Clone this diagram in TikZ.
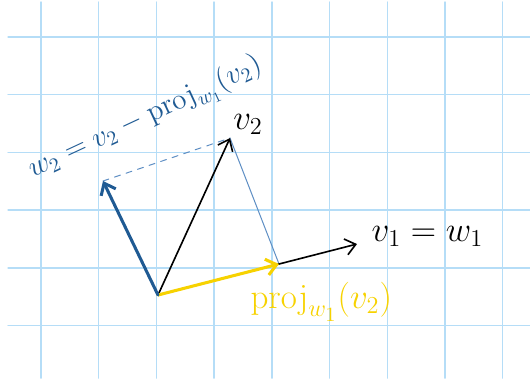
\documentclass[tikz,border=0pt]{standalone}
\usepackage{amsmath}
\usepackage{tikz}
\usetikzlibrary{
    positioning,
    arrows.meta
}
\definecolor{cuadro}{HTML}{B5DDF7}
\definecolor{azul}{HTML}{1F5A93}
\definecolor{azulclaro}{HTML}{5F8FC4}
\definecolor{amarillo}{HTML}{F7D200}
\tikzset{
    >={Straight Barb[length=5pt,width=8pt]},
    vector/.style={
        ->,
        line width=0.8pt
    },
    etiqueta/.style={
        font=\LARGE,
        inner sep=1pt
    }
}

\begin{document}
\begin{tikzpicture}[
    x=1cm,
    y=1cm,
    line cap=round
]

    \useasboundingbox (0,0) rectangle (9.185,6.603);

    % Cuadricula
    \foreach \i in {0,...,8}
        \draw[cuadro, line width=0.7pt] (0.711+\i,0.05) -- (0.711+\i,6.568);
    \foreach \j in {0,...,5}
        \draw[cuadro, line width=0.7pt] (0.14,5.962-\j) -- (9.185,5.962-\j);

    % Puntos
    \coordinate (o)  at (2.738,1.490);
    \coordinate (v2) at (3.986,4.211);
    \coordinate (v1) at (6.187,2.374);
    \coordinate (w2) at (1.785,3.466);
    \coordinate (p)  at (4.835,2.028);

    % Vectores
    \path

        % proyeccion
        (v2)
            edge[azulclaro, line width=0.5pt] (p)
        (w2)
            edge[azulclaro, dashed, line width=0.5pt] (v2)

        % v1 y v2
        (o)
            edge[vector] (v1)
            edge[vector] (v2)
            edge[vector, amarillo, line width=1.5pt] (p)
            edge[vector, azul, line width=1.5pt] (w2);

    % Etiquetas
    \node[etiqueta, anchor=west] (lv1) at (6.40,2.50) {$v_1 = w_1$};
    \node[etiqueta] (lv2) at (4.30,4.45) {$v_2$};
    \node[etiqueta, amarillo, anchor=west] (lp) at (4.30,1.37)
        {$\operatorname{proj}_{w_1}(v_2)$};
    \node[etiqueta, azul, font=\Large, rotate=25] (lw2) at (2.52,4.55)
        {$w_2 = v_2 - \operatorname{proj}_{w_1}(v_2)$};

\end{tikzpicture}
\end{document}
